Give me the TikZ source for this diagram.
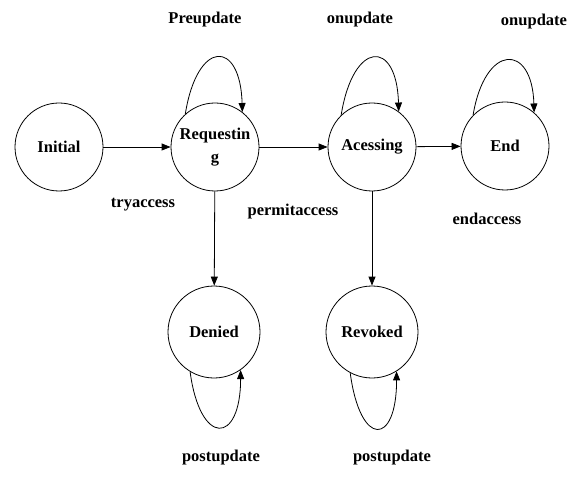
\documentclass[tikz,border=0pt]{standalone}
\usepackage{fontspec}
\setmainfont{Liberation Serif}
\usetikzlibrary{arrows.meta}
\begin{document}
\begin{tikzpicture}[x=1pt,y=1pt,
  state/.style={circle,draw,line width=0.8pt,minimum size=88pt,inner sep=0pt,font=\bfseries\fontsize{16.5}{23}\selectfont,align=center},
  lbl/.style={font=\bfseries\fontsize{16.5}{20}\selectfont,inner sep=0pt},
  edge/.style={line width=0.8pt,-{Triangle[length=9pt,width=7pt]}}]
\useasboundingbox (0,0) rectangle (572,493);
\node[state] (ini) at (59,346) {Initial};
\node[state] (req) at (215,346) {Requestin\\g};
\node[state] (acc) at (372,346) {Acessing};
\node[state] (end) at (505,347) {End};
\node[state,minimum size=92pt] (den) at (214,161) {Denied};
\node[state,minimum size=92pt] (rev) at (372,161) {Revoked};

\draw[edge] (ini) -- (req);
\draw[edge] (req) -- (acc);
\draw[edge] (acc) -- (end);
\draw[edge] (req) -- (den);
\draw[edge] (acc) -- (rev);

\draw[edge] (req.132) .. controls +(12,75) and +(-2,73) .. (req.52);
\draw[edge] (acc.134) .. controls +(12,75) and +(-2,73) .. (acc.53);
\draw[edge] (end.136) .. controls +(12,72) and +(-2,70) .. (end.49);
\draw[edge] (den.-121) .. controls +(10,-75) and +(0,-75) .. (den.-55);
\draw[edge] (rev.-118) .. controls +(10,-75) and +(0,-75) .. (rev.-58);

\node[lbl] (l1) at (205,473) {Preupdate};
\node[lbl] (l2) at (360,473) {onupdate};
\node[lbl] (l3) at (534,471) {onupdate};
\node[lbl] (l4) at (143,288) {tryaccess};
\node[lbl] (l5) at (293,281) {permitaccess};
\node[lbl] (l6) at (487,274) {endaccess};
\node[lbl] (l7) at (221,35) {postupdate};
\node[lbl] (l8) at (392,35) {postupdate};
\end{tikzpicture}
\end{document}
